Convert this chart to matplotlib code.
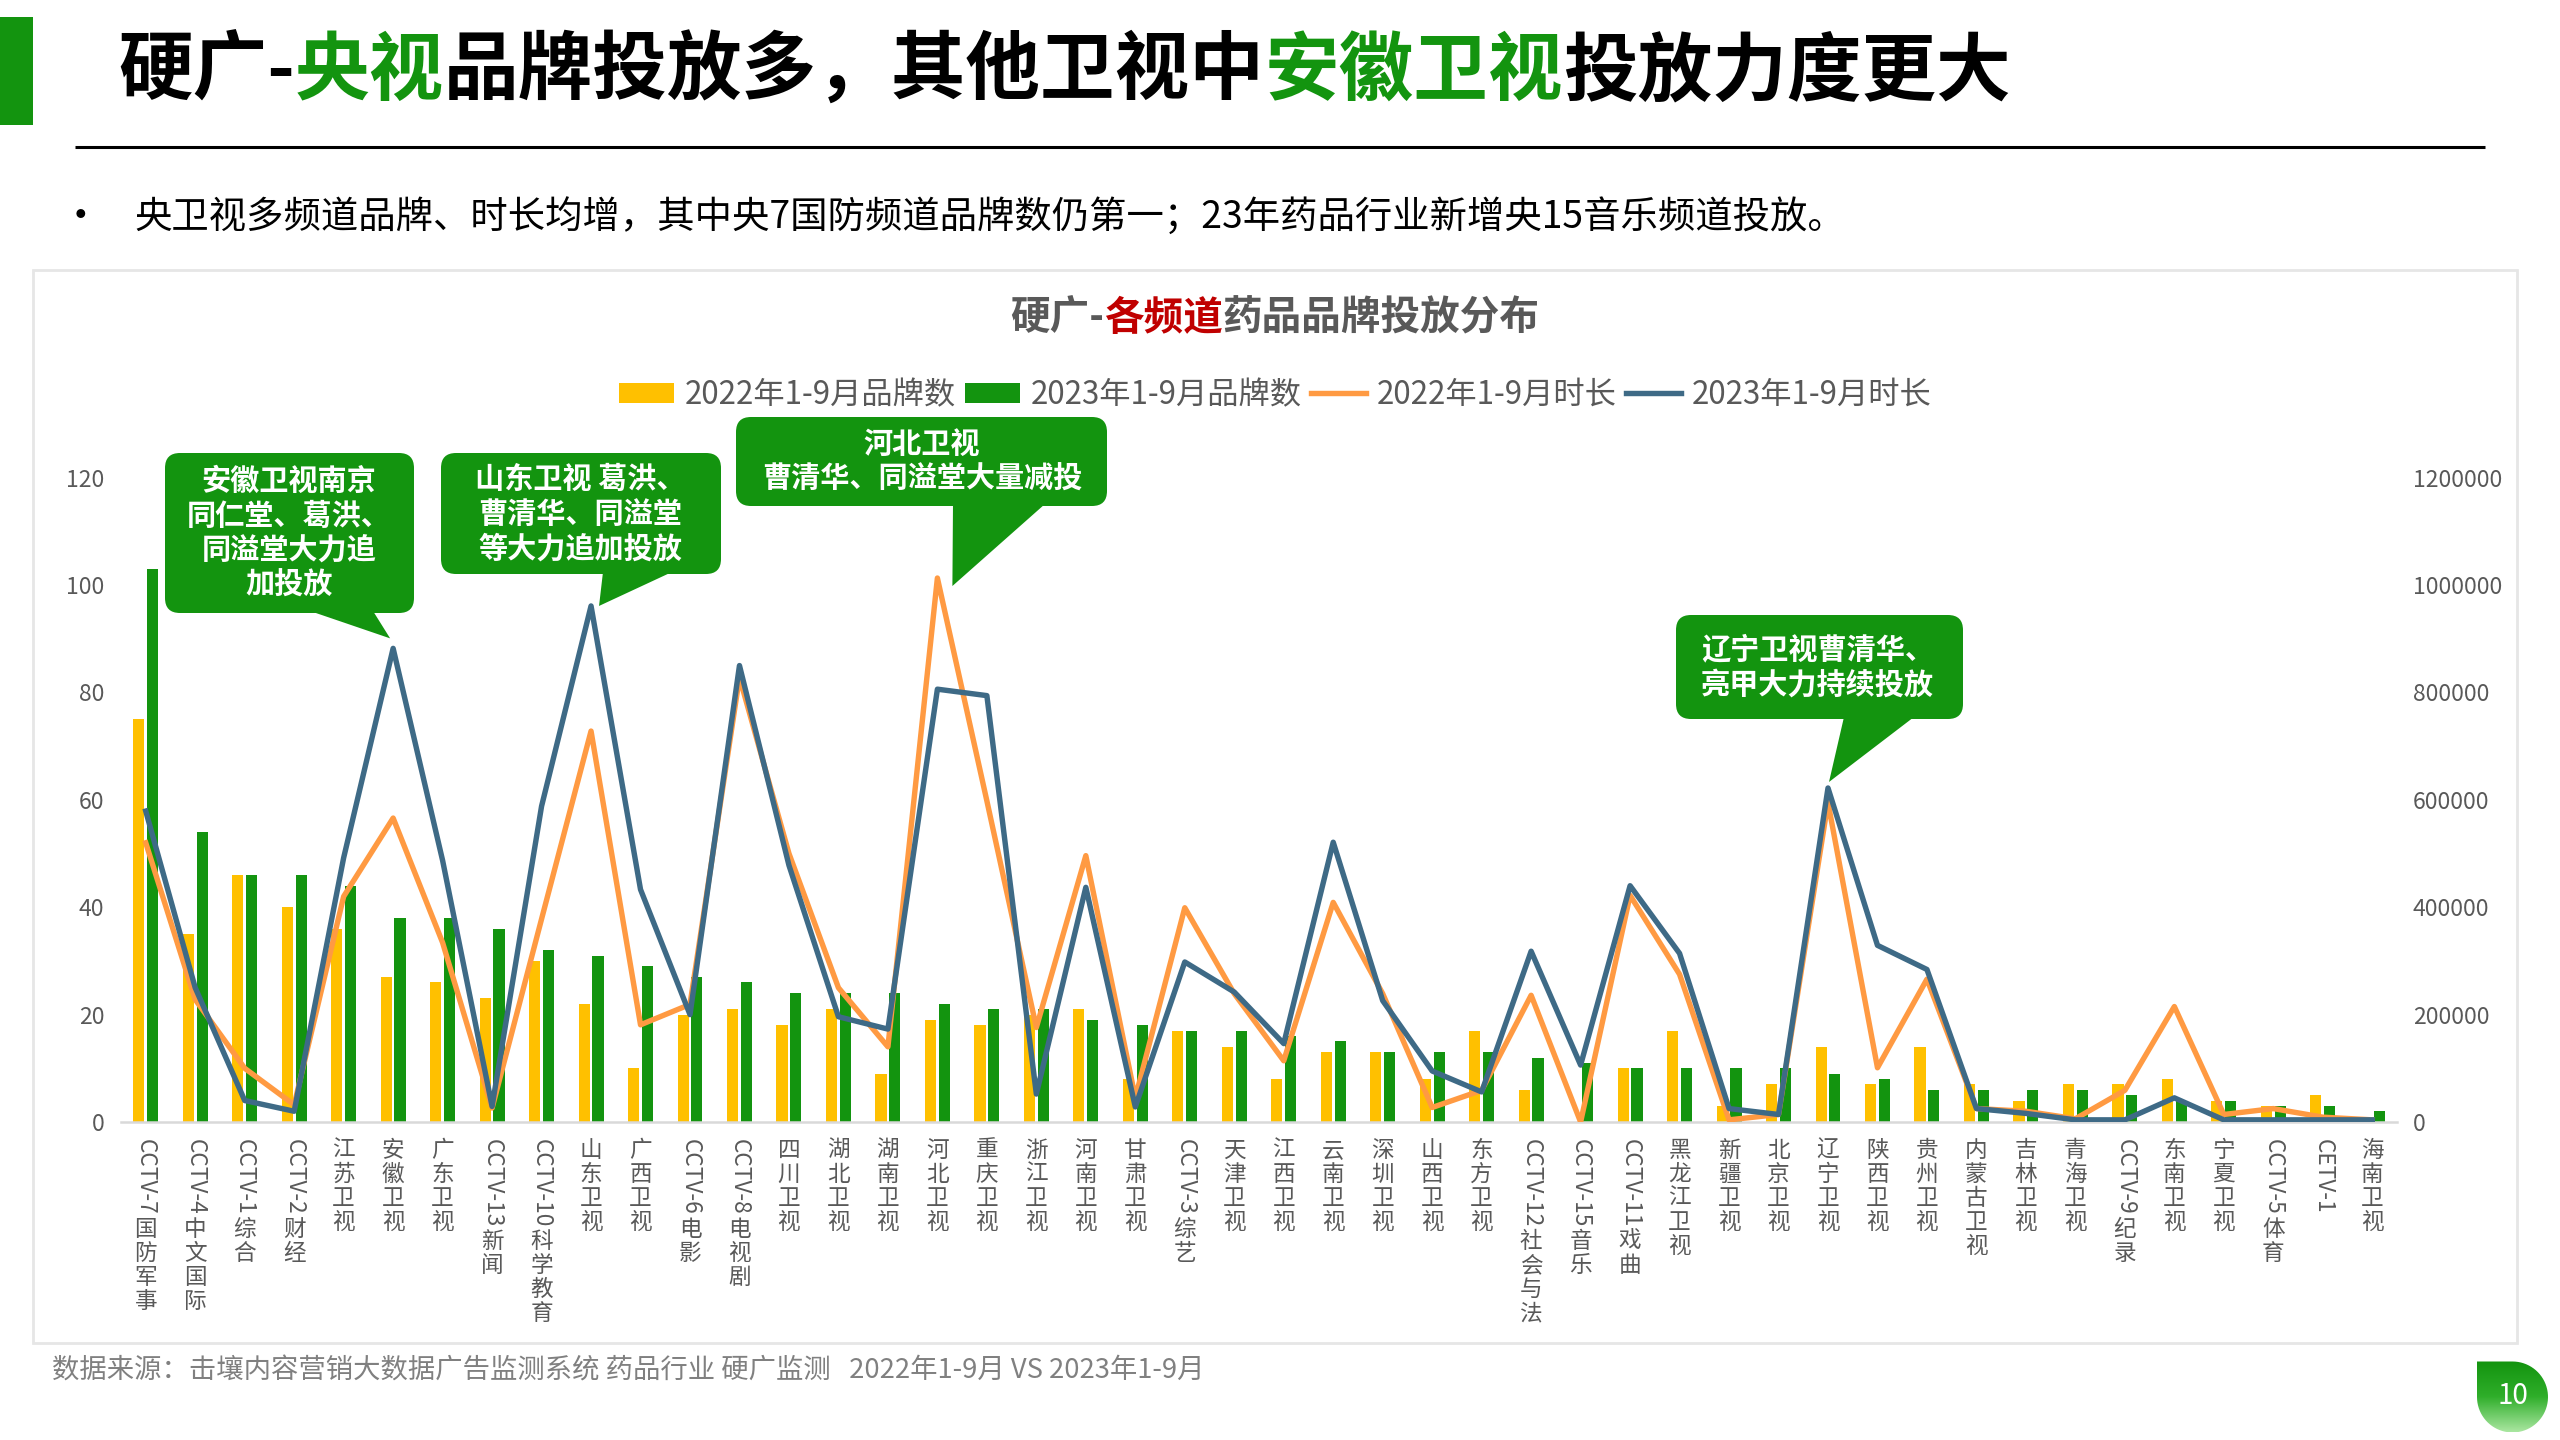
"""
硬广各频道药品品牌投放分布：柱状（品牌数）+ 折线（时长）双轴图
"""

import numpy as np
import matplotlib
matplotlib.use("Agg")
import matplotlib.pyplot as plt
from matplotlib.patches import FancyBboxPatch, Polygon, Rectangle

plt.rcParams["font.family"] = ["Noto Sans CJK SC", "DejaVu Sans"]

# ---- data ----
channels = [
    "CCTV-7国防军事", "CCTV-4中文国际", "CCTV-1综合", "CCTV-2财经", "江苏卫视",
    "安徽卫视", "广东卫视", "CCTV-13新闻", "CCTV-10科学教育", "山东卫视",
    "广西卫视", "CCTV-6电影", "CCTV-8电视剧", "四川卫视", "湖北卫视",
    "湖南卫视", "河北卫视", "重庆卫视", "浙江卫视", "河南卫视",
    "甘肃卫视", "CCTV-3综艺", "天津卫视", "江西卫视", "云南卫视",
    "深圳卫视", "山西卫视", "东方卫视", "CCTV-12社会与法", "CCTV-15音乐",
    "CCTV-11戏曲", "黑龙江卫视", "新疆卫视", "北京卫视", "辽宁卫视",
    "陕西卫视", "贵州卫视", "内蒙古卫视", "吉林卫视", "青海卫视",
    "CCTV-9纪录", "东南卫视", "宁夏卫视", "CCTV-5体育", "CETV-1", "海南卫视",
]
brands_2022 = [75, 35, 46, 40, 36, 27, 26, 23, 30, 22, 10, 20, 21, 18, 21, 9,
               19, 18, 20, 21, 8, 17, 14, 8, 13, 13, 8, 17, 6, 0, 10, 17, 3, 7,
               14, 7, 14, 7, 4, 7, 7, 8, 4, 3, 5, 1]
brands_2023 = [103, 54, 46, 46, 44, 38, 38, 36, 32, 31, 29, 27, 26, 24, 24, 24,
               22, 21, 21, 19, 18, 17, 17, 16, 15, 13, 13, 13, 12, 11, 10, 10,
               10, 10, 9, 8, 6, 6, 6, 6, 5, 4, 4, 3, 3, 2]
dur_2022 = [520000, 228000, 100000, 32000, 420000, 566000, 334000, 26000,
            378000, 728000, 181000, 219000, 828000, 500000, 250000, 140000,
            1013000, 598000, 176000, 496000, 45000, 399000, 239000, 114000,
            409000, 239000, 27000, 59000, 236000, 0, 422000, 275000, 4000,
            14000, 595000, 101000, 266000, 25000, 20000, 6000, 59000, 215000,
            14000, 25000, 9000, 4000]
dur_2023 = [579000, 250000, 40000, 20000, 492000, 882000, 487000, 29000,
            588000, 961000, 433000, 200000, 850000, 478000, 196000, 173000,
            806000, 794000, 52000, 437000, 28000, 298000, 242000, 146000,
            521000, 226000, 95000, 56000, 318000, 106000, 440000, 314000,
            25000, 14000, 622000, 329000, 284000, 25000, 16000, 4000, 4000,
            45000, 4000, 4000, 4000, 4000]
series_names = ["2022年1-9月品牌数", "2023年1-9月品牌数",
                "2022年1-9月时长", "2023年1-9月时长"]

GREEN = "#13940F"
YELLOW = "#FFC000"
ORANGE = "#FF9A42"
BLUE = "#3E6A86"
GRAY = "#595959"

W, H = 2560, 1440
fig = plt.figure(figsize=(W / 100, H / 100), dpi=100)

# background layer in pixel coordinates (y downwards)
bg = fig.add_axes([0, 0, 1, 1])
bg.set_xlim(0, W)
bg.set_ylim(H, 0)
bg.axis("off")
bg.set_zorder(0)

renderer = fig.canvas.get_renderer()


def rich_text(ax, parts, x, y, center=False, **kw):
    """Place differently coloured text pieces one after the other."""
    items = [ax.text(0, y, s, color=c, ha="left", va="center", **kw) for s, c in parts]
    widths = [t.get_window_extent(renderer).width for t in items]
    start = x - sum(widths) / 2 if center else x
    for t, w in zip(items, widths):
        t.set_x(start)
        start += w


# header
bg.add_patch(Rectangle((0, 17), 33, 108, color=GREEN, lw=0))
rich_text(bg, [("硬广-", "black"), ("央视", GREEN), ("品牌投放多，其他卫视中", "black"),
               ("安徽卫视", GREEN), ("投放力度更大", "black")],
          118, 72, fontsize=53.7, fontweight="bold")
bg.plot([75, 2485], [147, 147], color="black", lw=2.2, solid_capstyle="butt")
bg.text(60, 218, "•", fontsize=30, va="center", ha="left", color="black")
bg.text(134, 218, "央卫视多频道品牌、时长均增，其中央7国防频道品牌数仍第一；23年药品行业新增央15音乐频道投放。",
        fontsize=26.9, va="center", ha="left", color="black")

# chart frame
bg.add_patch(Rectangle((33, 270), 2484, 1073, fc="white", ec="#E6E6E6", lw=2))
rich_text(bg, [("硬广-", GRAY), ("各频道", "#C00000"), ("药品品牌投放分布", GRAY)],
          1275, 318, center=True, fontsize=28.5, fontweight="bold")

# footer + page number
bg.text(52, 1371, "数据来源：击壤内容营销大数据广告监测系统 药品行业 硬广监测   2022年1-9月 VS 2023年1-9月",
        fontsize=19.7, color="#808080", va="center", ha="left")
cx, cy, r = 2512.5, 1397, 35.5
t = np.linspace(-np.pi / 2, np.pi, 60)
leaf = np.vstack([[cx - r, cy - r], np.column_stack([cx + r * np.cos(t), cy + r * np.sin(t)])])
leaf_patch = Polygon(leaf, closed=True, fc="none", ec="none")
bg.add_patch(leaf_patch)
grad = np.linspace(0, 1, 100).reshape(-1, 1)
cmap = matplotlib.colors.LinearSegmentedColormap.from_list("g", [GREEN, "#2FAE2A", "#A9E6A0"])
img = bg.imshow(grad, extent=(cx - r, cx + r, cy + r, cy - r), cmap=cmap, aspect="auto")
img.set_clip_path(leaf_patch)
bg.set_xlim(0, W)
bg.set_ylim(H, 0)
bg.text(cx, cy - 1, "10", color="white", fontsize=20, ha="center", va="center")

# ---- main chart ----
x = np.arange(len(channels))
ax = fig.add_axes([121 / W, 1 - 1122 / H, (2397 - 121) / W, (1122 - 477.6) / H])
ax.set_zorder(1)
ax.patch.set_visible(False)
b1 = ax.bar(x - 0.14, brands_2022, width=0.225, color=YELLOW, label=series_names[0])
b2 = ax.bar(x + 0.14, brands_2023, width=0.225, color=GREEN, label=series_names[1])
ax.set_xlim(-0.5, len(channels) - 0.5)
ax.set_ylim(0, 120)
ax.set_yticks(range(0, 121, 20))
ax.set_xticks(x)
ax.set_xticklabels([])
ax.tick_params(length=0, labelsize=16.5, labelcolor=GRAY, pad=12)
for s in ["top", "left", "right"]:
    ax.spines[s].set_visible(False)
ax.spines["bottom"].set_color("#D9D9D9")
ax.spines["bottom"].set_linewidth(1.8)

ax2 = ax.twinx()
ax2.set_zorder(2)
l1, = ax2.plot(x, dur_2022, color=ORANGE, lw=3.9, solid_joinstyle="round", label=series_names[2])
l2, = ax2.plot(x, dur_2023, color=BLUE, lw=3.9, solid_joinstyle="round", label=series_names[3])
ax2.set_ylim(0, 1200000)
ticks = list(range(0, 1200001, 200000))
ax2.set_yticks(ticks)
ax2.set_yticklabels([str(v) for v in ticks])
ax2.tick_params(length=0, labelsize=16.5, labelcolor=GRAY, pad=11.5)
for s in ax2.spines.values():
    s.set_visible(False)

ax2.legend(handles=[b1, b2, l1, l2], loc="center", ncol=4, frameon=False,
           bbox_to_anchor=(1275.5 / W, 1 - 395 / H), bbox_transform=fig.transFigure,
           fontsize=22.5, labelcolor=GRAY, handlelength=1.75, handleheight=0.65,
           handletextpad=0.35, columnspacing=0.3)


def to_px(ax_, xy):
    return bg.transData.inverted().transform(ax_.transData.transform(xy))


# stacked vertical category labels: CJK upright, latin runs turned
pitch = 24
for i, lab in enumerate(channels):
    px = to_px(ax, (i, 0))[0]
    y = 1139
    runs = []
    for ch in lab:
        if ch.isascii() and runs and runs[-1].isascii():
            runs[-1] += ch
        else:
            runs.append(ch)
    for run in runs:
        if run.isascii():
            tt = bg.text(px, y, run, rotation=-90, ha="center", va="top",
                         fontsize=16.3, color=GRAY)
            y += tt.get_window_extent(renderer).height + 3
        else:
            bg.text(px, y, run, ha="center", va="top", fontsize=16.3, color=GRAY)
            y += pitch

# ---- callouts (foreground layer) ----
fg = fig.add_axes([0, 0, 1, 1])
fg.set_xlim(0, W)
fg.set_ylim(H, 0)
fg.axis("off")
fg.set_zorder(3)


def callout(box, base, tip, text, tx, ha="center"):
    x0, y0, x1, y1 = box
    fg.add_patch(FancyBboxPatch((x0, y0), x1 - x0, y1 - y0,
                                boxstyle="round,pad=0,rounding_size=15", fc=GREEN, ec="none"))
    fg.add_patch(Polygon([(base[0], y1 - 2), (base[1], y1 - 2), tip], closed=True,
                         fc=GREEN, ec="none"))
    fg.text(tx, (y0 + y1) / 2, text, color="white", fontsize=21, fontweight="bold",
            ha=ha, va="center", multialignment=ha, linespacing=1.2)


tip = to_px(ax2, (5, dur_2023[5]))
callout((165, 453, 414, 613), (310, 373), (tip[0] - 3, tip[1] - 10),
        "安徽卫视南京\n同仁堂、葛洪、\n同溢堂大力追\n加投放", 289)
tip = to_px(ax2, (9, dur_2023[9]))
callout((441, 453, 721, 574), (603, 672), (tip[0] + 8, tip[1]),
        "山东卫视 葛洪、\n曹清华、同溢堂\n等大力追加投放", 580)
tip = to_px(ax2, (16, dur_2022[16]))
callout((736, 417, 1107, 506), (953, 1045), (tip[0] + 15, tip[1] + 8),
        "河北卫视\n曹清华、同溢堂大量减投", 922)
tip = to_px(ax2, (34, dur_2023[34]))
callout((1676, 615, 1963, 719), (1844, 1914), (tip[0] + 1, tip[1] - 6),
        "辽宁卫视曹清华、\n亮甲大力持续投放", 1701, ha="left")

fig.savefig("out.png", dpi=100)
